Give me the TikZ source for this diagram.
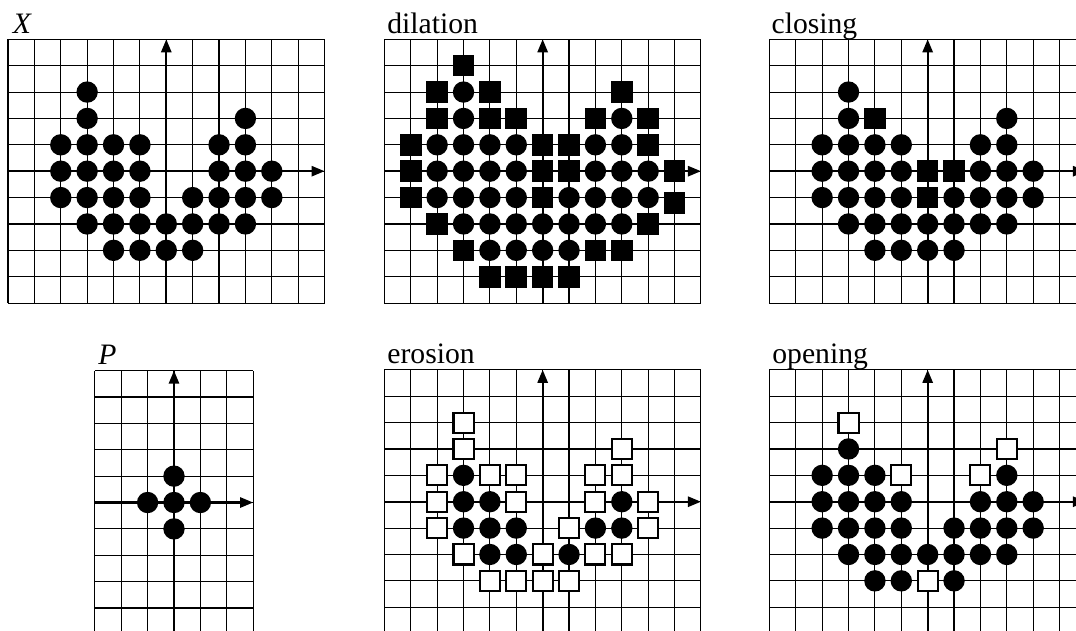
\documentclass[tikz,border=0pt]{standalone}
\usepackage{fontspec}
\setmainfont{Liberation Serif}
\usetikzlibrary{arrows.meta}

\begin{document}
\begin{tikzpicture}[x=0.5cm, y=0.5cm,
    gridline/.style={line width=0.6pt, step=1},
    axis/.style={line width=1.1pt, -{Triangle[length=7pt, width=5.5pt]}},
    ttl/.style={anchor=base west, inner sep=0pt, font=\fontsize{16}{19}\selectfont},
    hole/.style={fill=white, draw=black, line width=1.1pt}]

  \useasboundingbox (0,0) rectangle (40.79,-23.92);
  \clip (0,0) rectangle (40.79,-23.92);

  % ---- X (top left) ----
  \begin{scope}[shift={(6.304,-6.490)}]
    \draw[gridline] (-6,-5) grid (6,5);
    \draw[axis] (-6,0) -- (6,0);
    \draw[axis] (0,-5) -- (0,5);
    \node[ttl] (tX) at (-5.83,5.23) {\textit{X}};
    \foreach \x/\y in {-3/3,-3/2,3/2,-4/1,-3/1,-2/1,-1/1,2/1,3/1,
        -4/0,-3/0,-2/0,-1/0,2/0,3/0,4/0,-4/-1,-3/-1,-2/-1,-1/-1,1/-1,2/-1,3/-1,4/-1,
        -3/-2,-2/-2,-1/-2,0/-2,1/-2,2/-2,3/-2,-2/-3,-1/-3,0/-3,1/-3}
      \fill (\x,\y) circle (0.405);
  \end{scope}

  % ---- dilation ----
  \begin{scope}[shift={(20.572,-6.490)}]
    \draw[gridline] (-6,-5) grid (6,5);
    \draw[axis] (-6,0) -- (6,0);
    \draw[axis] (0,-5) -- (0,5);
    \node[ttl] (tdil) at (-5.9,5.23) {dilation};
    \foreach \x/\y in {-3/3,-3/2,3/2,-4/1,-3/1,-2/1,-1/1,2/1,3/1,
        -4/0,-3/0,-2/0,-1/0,2/0,3/0,4/0,-4/-1,-3/-1,-2/-1,-1/-1,1/-1,2/-1,3/-1,4/-1,
        -3/-2,-2/-2,-1/-2,0/-2,1/-2,2/-2,3/-2,-2/-3,-1/-3,0/-3,1/-3}
      \fill (\x,\y) circle (0.405);
    \foreach \x/\y in {-3/4,-4/3,-2/3,3/3,-4/2,-2/2,-1/2,2/2,4/2,
        -5/1,0/1,1/1,4/1,-5/0,0/0,1/0,5/0,-5/-1,0/-1,5/-1.2,
        -4/-2,4/-2,-3/-3,2/-3,3/-3,-2/-4,-1/-4,0/-4,1/-4}
      \fill (\x-0.41,\y-0.41) rectangle ++(0.82,0.82);
  \end{scope}

  % ---- closing ----
  \begin{scope}[shift={(35.167,-6.490)}]
    \draw[gridline] (-6,-5) grid (6,5);
    \draw[axis] (-6,0) -- (6,0);
    \draw[axis] (0,-5) -- (0,5);
    \node[ttl] (tclo) at (-5.93,5.23) {closing};
    \foreach \x/\y in {-3/3,-3/2,3/2,-4/1,-3/1,-2/1,-1/1,2/1,3/1,
        -4/0,-3/0,-2/0,-1/0,2/0,3/0,4/0,-4/-1,-3/-1,-2/-1,-1/-1,1/-1,2/-1,3/-1,4/-1,
        -3/-2,-2/-2,-1/-2,0/-2,1/-2,2/-2,3/-2,-2/-3,-1/-3,0/-3,1/-3}
      \fill (\x,\y) circle (0.405);
    \foreach \x/\y in {-2/2,0/0,1/0,0/-1}
      \fill (\x-0.41,\y-0.41) rectangle ++(0.82,0.82);
  \end{scope}

  % ---- P (bottom left) ----
  \begin{scope}[shift={(6.596,-19.05)}]
    \draw[gridline] (-3,-5) grid (3,5);
    \draw[axis] (-3,0) -- (3,0);
    \draw[axis] (0,-5) -- (0,5);
    \node[ttl] (tP) at (-2.88,5.23) {\textit{P}};
    \foreach \x/\y in {0/0,1/0,-1/0,0/1,0/-1}
      \fill (\x,\y) circle (0.405);
  \end{scope}

  % ---- erosion ----
  \begin{scope}[shift={(20.572,-19.02)}]
    \draw[gridline] (-6,-5) grid (6,5);
    \draw[axis] (-6,0) -- (6,0);
    \draw[axis] (0,-5) -- (0,5);
    \node[ttl] (tero) at (-5.9,5.23) {erosion};
    \foreach \x/\y in {-3/1,-3/0,-2/0,3/0,-3/-1,-2/-1,-1/-1,2/-1,3/-1,
        -2/-2,-1/-2,1/-2}
      \fill (\x,\y) circle (0.405);
    \foreach \x/\y in {-3/3,-3/2,3/2,-4/1,-2/1,-1/1,2/1,3/1,-4/0,-1/0,2/0,4/0,
        -4/-1,1/-1,4/-1,-3/-2,0/-2,2/-2,3/-2,-2/-3,-1/-3,0/-3,1/-3}
      \filldraw[hole] (\x-0.38,\y-0.38) rectangle ++(0.76,0.76);
  \end{scope}

  % ---- opening ----
  \begin{scope}[shift={(35.167,-19.02)}]
    \draw[gridline] (-6,-5) grid (6,5);
    \draw[axis] (-6,0) -- (6,0);
    \draw[axis] (0,-5) -- (0,5);
    \node[ttl] (tope) at (-5.9,5.23) {opening};
    \foreach \x/\y in {-3/2,-4/1,-3/1,-2/1,3/1,
        -4/0,-3/0,-2/0,-1/0,2/0,3/0,4/0,-4/-1,-3/-1,-2/-1,-1/-1,1/-1,2/-1,3/-1,4/-1,
        -3/-2,-2/-2,-1/-2,0/-2,1/-2,2/-2,3/-2,-2/-3,-1/-3,1/-3}
      \fill (\x,\y) circle (0.405);
    \foreach \x/\y in {-3/3,3/2,-1/1,2/1,0/-3}
      \filldraw[hole] (\x-0.38,\y-0.38) rectangle ++(0.76,0.76);
  \end{scope}
\end{tikzpicture}
\end{document}
